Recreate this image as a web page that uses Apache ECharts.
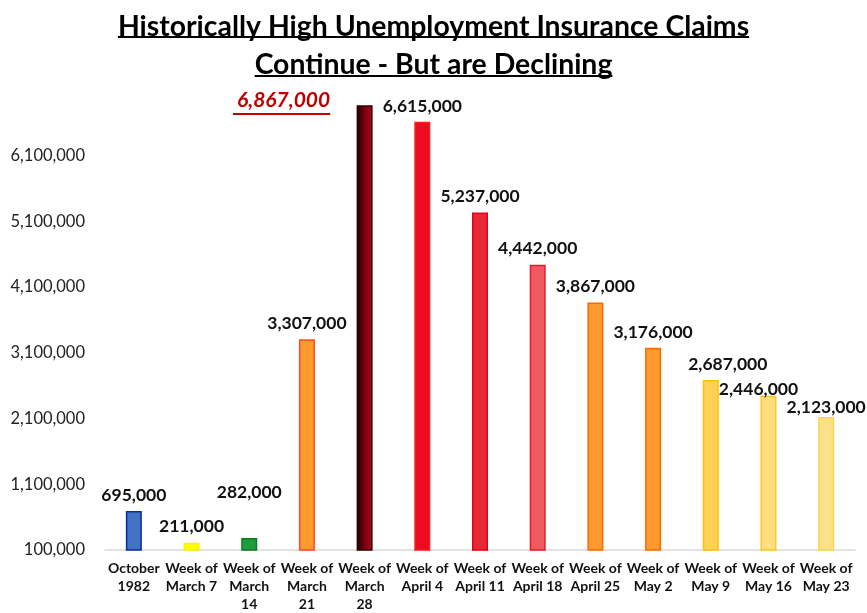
<!DOCTYPE html>
<html>
<head>
<meta charset="utf-8">
<script src="https://cdn.jsdelivr.net/npm/echarts@6/dist/echarts.min.js"></script>
<style>
html,body{margin:0;padding:0;background:#fff;}
#chart{width:867px;height:613px;}
</style>
</head>
<body>
<div id="chart"></div>
<script>
// ---- data ----
var categories = [
  "October\n1982", "Week of\nMarch 7", "Week of\nMarch\n14", "Week of\nMarch\n21",
  "Week of\nMarch\n28", "Week of\nApril 4", "Week of\nApril 11", "Week of\nApril 18",
  "Week of\nApril 25", "Week of\nMay 2", "Week of\nMay 9", "Week of\nMay 16", "Week of\nMay 23"
];
var claims = [695000, 211000, 282000, 3307000, 6867000, 6615000, 5237000, 4442000, 3867000, 3176000, 2687000, 2446000, 2123000];
var yTickValues = [100000, 1100000, 2100000, 3100000, 4100000, 5100000, 6100000];
var titleLines = ["Historically High Unemployment Insurance Claims", "Continue - But are Declining"];

// ---- styles ----
var FONT = "Lato";
var TITLE_SIZE = 28.4;
var PEAK_SIZE = 21;
var fills = ["#4472C4", "#FFFF00", "#1E9E3A", "#FF9A2E", null, "#EC0C20", "#E8283A", "#EF5A62",
             "#FF9A30", "#FF9A30", "#FFD257", "#FFDF80", "#FFE08A"];
var borders = ["#0A2BA0", "#FFF000", "#0A7A20", "#FF4B20", "#2A0000", "#FF1A1A", "#E80010", "#E8182A",
               "#FF6A00", "#FF6A00", "#FFC000", "#FFC820", "#FFD54A"];
var labelOffsets = {2: [0, -30], 4: [-81, 12], 10: [17, 0], 11: [-10, 10], 12: [0, 6]};

var fmt = function (v) { return v.toLocaleString("en-US"); };

var seriesData = claims.map(function (v, i) {
  var color = fills[i] ? fills[i] : new echarts.graphic.LinearGradient(0, 0, 1, 0, [
    {offset: 0, color: "#150000"}, {offset: 0.6, color: "#8A0010"}, {offset: 1, color: "#B00018"}
  ]);
  var item = {value: v, itemStyle: {color: color, borderColor: borders[i], borderWidth: 1.5}};
  if (labelOffsets[i]) item.label = {offset: labelOffsets[i]};
  if (i === 4) {
    item.label.color = "#C00000";
    item.label.fontStyle = "italic";
    item.label.fontSize = PEAK_SIZE;
  }
  return item;
});

function measure(text, font) {
  var c = document.createElement("canvas").getContext("2d");
  c.font = font;
  return c.measureText(text).width;
}

var t1w = measure(titleLines[0], "bold " + TITLE_SIZE + "px " + FONT);
var t2w = measure(titleLines[1], "bold " + TITLE_SIZE + "px " + FONT);
var peakW = measure(fmt(claims[4]), "italic bold " + PEAK_SIZE + "px " + FONT);

var chart = echarts.init(document.getElementById("chart"), null, {renderer: "canvas"});

var gridLeft = 105, gridRight = 12;
var catW = (867 - gridLeft - gridRight) / categories.length;
var peakCx = gridLeft + catW * 4.5 + labelOffsets[4][0];

chart.setOption({
  animation: false,
  backgroundColor: "#ffffff",
  title: {
    text: titleLines.join("\n"),
    left: "center",
    top: 3,
    textStyle: {fontFamily: FONT, fontSize: TITLE_SIZE, fontWeight: "bold", color: "#000", lineHeight: 38}
  },
  grid: {left: gridLeft, right: gridRight, top: 90, bottom: 63, containLabel: false},
  xAxis: {
    type: "category",
    data: categories,
    axisLine: {lineStyle: {color: "#D9D9D9", width: 1.5}},
    axisTick: {show: false},
    axisLabel: {interval: 0, fontFamily: FONT, fontWeight: "bold", fontSize: 14, lineHeight: 18, color: "#111", margin: 9}
  },
  yAxis: {
    type: "value",
    min: 100000,
    max: 7100000,
    splitLine: {show: false},
    axisLine: {show: false},
    axisTick: {show: false},
    axisLabel: {
      customValues: yTickValues,
      formatter: function (v) { return fmt(v); },
      fontFamily: FONT, fontSize: 16.5, color: "#222", margin: 20
    }
  },
  series: [{
    type: "bar",
    data: seriesData,
    barWidth: 16,
    label: {
      show: true, position: "top", distance: 7,
      fontFamily: FONT, fontWeight: "bold", fontSize: 17.5, color: "#111",
      formatter: function (p) { return fmt(p.value); }
    }
  }],
  graphic: [
    {type: "rect", shape: {x: 433.5 - t1w / 2, y: 36, width: t1w, height: 2}, style: {fill: "#000"}},
    {type: "rect", shape: {x: 433.5 - t2w / 2, y: 75, width: t2w, height: 2}, style: {fill: "#000"}},
    {type: "rect", shape: {x: peakCx - peakW / 2 - 4, y: 113, width: peakW + 4, height: 2}, style: {fill: "#C00000"}}
  ]
});
</script>
</body>
</html>
